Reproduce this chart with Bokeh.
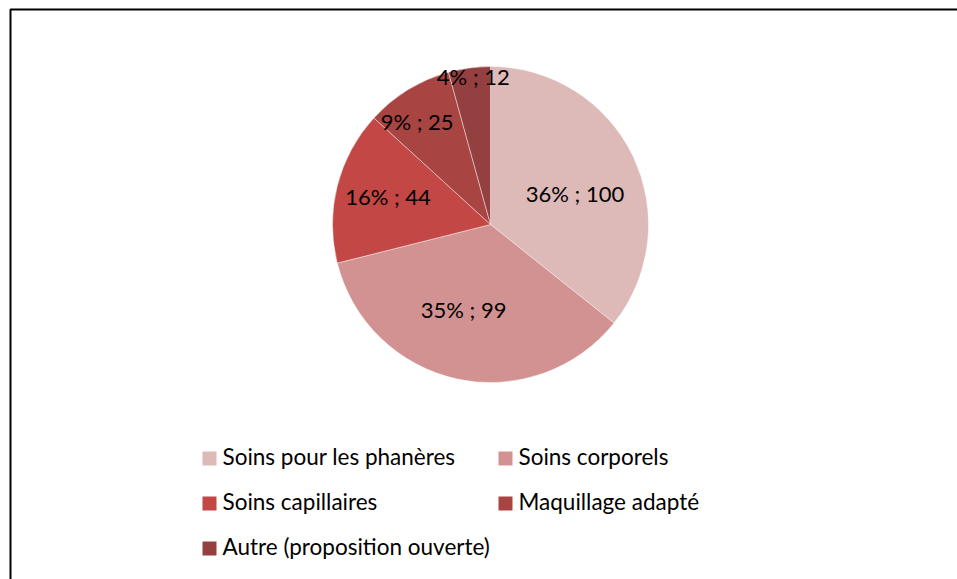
import math
from bokeh.plotting import figure
from bokeh.models import Range1d, ColumnDataSource
from bokeh.core.properties import value
from bokeh.embed import file_html
from bokeh.resources import INLINE

# ---- data ----
categories = ["Soins pour les phanères", "Soins corporels", "Soins capillaires",
              "Maquillage adapté", "Autre (proposition ouverte)"]
counts = [100, 99, 44, 25, 12]
colors = ["#DDB9B8", "#D39292", "#C34745", "#A84442", "#944040"]
# label placement styling (fraction of radius, angular nudge in degrees, clockwise)
label_radius_frac = [0.566, 0.577, 0.669, 0.79, 0.93]
label_angle_nudge = [6.6, 4.9, 0.0, -4.5, 1.0]

W, H = 957, 579
FONT = "Lato"

p = figure(width=W, height=H, output_backend="svg", toolbar_location=None,
           x_range=Range1d(0, W), y_range=Range1d(0, H), min_border=0)
p.axis.visible = False
p.grid.visible = False
p.outline_line_color = None
p.background_fill_color = "white"
p.border_fill_color = "white"

# frame (top + left border visible in the reference)
p.line(x=[10, 10, W], y=[0, H - 9, H - 9], line_color="black", line_width=2)

cx, cy, R = 490, H - 224, 158
total = sum(counts)
cum = 0
starts, ends, mids = [], [], []
for c in counts:
    f0 = cum / total
    cum += c
    f1 = cum / total
    starts.append(math.pi / 2 - 2 * math.pi * f0)
    ends.append(math.pi / 2 - 2 * math.pi * f1)
    mids.append(math.pi / 2 - 2 * math.pi * (f0 + f1) / 2)

src = ColumnDataSource(dict(start=starts, end=ends, color=colors, cat=categories))
p.wedge(x=cx, y=cy, radius=R, start_angle="start", end_angle="end",
        direction="clock", fill_color="color", line_color="white",
        line_width=0.6, line_alpha=0.7, source=src)

# slice labels
lx, ly, lt = [], [], []
for c, m, rf, nd in zip(counts, mids, label_radius_frac, label_angle_nudge):
    pct = round(100 * c / total)
    a = m - math.radians(nd)
    lx.append(cx + rf * R * math.cos(a))
    ly.append(cy + rf * R * math.sin(a) + 2)
    lt.append(f"{pct}% ; {c}")
p.text(x=lx, y=ly, text=lt, text_align="center", text_baseline="middle",
       text_font=value(FONT), text_font_size="22px", text_color="black")

# legend (manual, two columns)
mx, my, tx, ty = [], [], [], []
for i, name in enumerate(categories):
    col, row = i % 2, i // 2
    x0 = 202 + col * 296
    y0 = H - (458 + row * 45) + 2
    mx.append(x0 + 7)
    my.append(y0 - 2)
    tx.append(x0 + 20)
    ty.append(y0)
p.rect(x=mx, y=my, width=14, height=14, fill_color=colors, line_color=None)
p.text(x=tx, y=ty, text=categories, text_align="left", text_baseline="middle",
       text_font=value(FONT), text_font_size="22.5px", text_color="black")

open("out.html", "w").write(file_html(p, INLINE))
